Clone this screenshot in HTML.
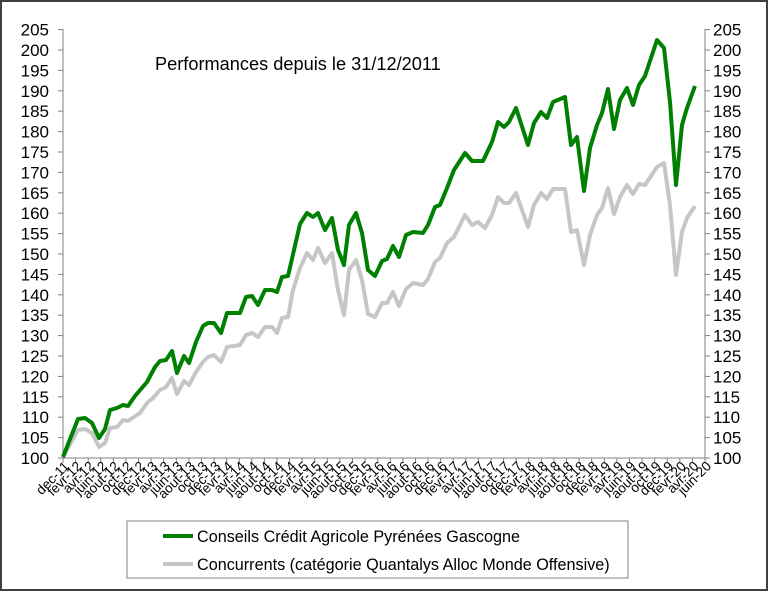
<!DOCTYPE html>
<html><head><meta charset="utf-8"><style>
html,body{margin:0;padding:0;background:#fff}
svg{display:block}
text{font-family:"Liberation Sans",Arial,sans-serif;fill:#000}
</style></head><body>
<svg id="s" width="768" height="591" viewBox="0 0 768 591" xmlns="http://www.w3.org/2000/svg">
<rect x="1" y="1" width="766" height="589" fill="#fff" stroke="#404040" stroke-width="2"/>
<text x="155" y="70" font-size="18.2">Performances depuis le 31/12/2011</text>
<line x1="63" y1="29" x2="63" y2="458" stroke="#808080" stroke-width="1"/>
<line x1="705" y1="29" x2="705" y2="458" stroke="#808080" stroke-width="1"/>
<line x1="63" y1="458" x2="705" y2="458" stroke="#808080" stroke-width="1"/>
<g id="ax"></g>
<polyline fill="none" stroke="#c6c6c6" stroke-width="4" stroke-linejoin="round" points="63,457 78,430 85,429 92,433 99,447 105,443 110,428 117,427 123,420 128,421 140,413 147,403 153,398 160,390 166,387 172,378 177,394 184,381 189,385 196,372 203,362 208,357 214,355 221,362 227,347 240,345 246,335 252,333 258,337 265,327 272,327 277,333 282,318 288,317 293,290 300,268 307,253 313,260 318,248 325,263 332,253 338,290 344,315 349,270 356,260 362,280 368,314 375,317 382,303 387,303 393,292 399,306 406,289 413,283 423,285 428,279 435,262 440,258 447,243 454,237 465,215 472,225 478,222 485,228 492,215 498,197 504,203 509,203 516,193 528,227 534,205 541,193 547,199 553,189 565,189 571,232 577,230 584,265 590,235 597,215 602,208 608,188 614,214 620,197 627,185 633,194 639,184 645,185 657,167 664,163 670,205 676,275 682,232 687,218 695,206"/>
<polyline fill="none" stroke="#008000" stroke-width="4" stroke-linejoin="round" points="63,457 78,419 85,418 92,423 99,438 105,429 110,410 117,408 123,405 128,406 135,396 147,382 155,367 160,361 166,360 172,351 177,373 184,356 189,363 196,342 203,326 208,323 214,323 221,333 227,313 240,313 246,297 252,296 258,305 265,290 272,290 277,292 282,277 288,276 300,224 307,213 313,217 318,213 325,230 332,218 338,250 344,265 349,225 356,213 362,233 368,270 375,276 382,261 387,259 393,246 399,257 406,235 413,232 423,233 428,225 435,207 440,205 447,188 454,170 465,153 472,161 483,161 492,142 498,122 504,127 509,122 516,108 528,145 534,123 541,112 547,118 553,102 565,97 571,145 577,137 584,191 590,148 597,125 602,113 608,89 614,129 620,100 627,88 633,105 639,85 645,76 657,40 664,48 670,102 676,185 682,125 687,108 695,86"/>
<rect x="127" y="521" width="501" height="57" fill="#fff" stroke="#808080" stroke-width="1"/>
<line x1="163" y1="536" x2="193" y2="536" stroke="#008000" stroke-width="4"/>
<line x1="163" y1="564" x2="193" y2="564" stroke="#c6c6c6" stroke-width="4"/>
<text x="197" y="542" font-size="16.2">Conseils Crédit Agricole Pyrénées Gascogne</text>
<text x="197" y="570" font-size="16.2">Concurrents (catégorie Quantalys Alloc Monde Offensive)</text>
</svg>
<script>
var g=document.getElementById('ax'),h='';
for(var i=0;i<=21;i++){var v=100+5*i,y=458-i*20.4;
h+='<line x1="58" y1="'+y+'" x2="63" y2="'+y+'" stroke="#808080"/>';
h+='<line x1="705" y1="'+y+'" x2="710" y2="'+y+'" stroke="#808080"/>';
h+='<text x="49" y="'+(y+6)+'" font-size="17" text-anchor="end">'+v+'</text>';
h+='<text x="713" y="'+(y+6)+'" font-size="17">'+v+'</text>';}
var m=['dec','fevr','avr','juin','aout','oct'];
for(var k=0;k<=51;k++){var x=63+k*642/51;
h+='<line x1="'+x+'" y1="458" x2="'+x+'" y2="463" stroke="#808080"/>';
var yr=11+Math.floor((k+5)/6);var lab=m[k%6]+'-'+yr;
h+='<text font-size="13.5" text-anchor="end" transform="translate('+(x+7)+',467) rotate(-45)">'+lab+'</text>';}
g.innerHTML=h;
</script>
</body></html>
